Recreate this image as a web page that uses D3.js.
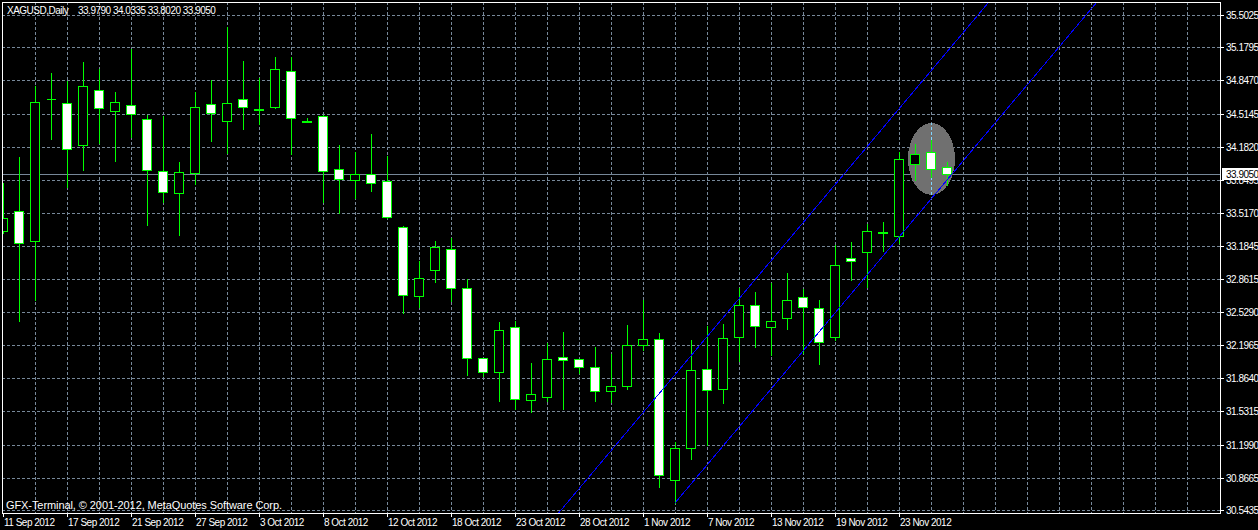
<!DOCTYPE html>
<html>
<head>
<meta charset="utf-8">
<script src="https://cdn.jsdelivr.net/npm/d3@7"></script>
<style>
  body { margin: 0; background: #000; overflow: hidden; }
  svg line, svg path, svg rect, svg ellipse { shape-rendering: crispEdges; }
  text { font-family: "Liberation Sans", Arial, sans-serif; font-size: 10px; letter-spacing: -0.5px; fill: #fff; }
</style>
</head>
<body>
<svg id="chart" width="1258" height="530"></svg>
<script>
// daily bars, XAGUSD
const dates = [
  "2012-09-11","2012-09-12","2012-09-13","2012-09-14","2012-09-17","2012-09-18","2012-09-19","2012-09-20","2012-09-21","2012-09-24",
  "2012-09-25","2012-09-26","2012-09-27","2012-09-28","2012-10-01","2012-10-02","2012-10-03","2012-10-04","2012-10-05","2012-10-07",
  "2012-10-08","2012-10-09","2012-10-10","2012-10-11","2012-10-12","2012-10-15","2012-10-16","2012-10-17","2012-10-18","2012-10-19",
  "2012-10-21","2012-10-22","2012-10-23","2012-10-24","2012-10-25","2012-10-26","2012-10-28","2012-10-29","2012-10-30","2012-10-31",
  "2012-11-01","2012-11-02","2012-11-05","2012-11-06","2012-11-07","2012-11-08","2012-11-09","2012-11-12","2012-11-13","2012-11-14",
  "2012-11-15","2012-11-16","2012-11-19","2012-11-20","2012-11-21","2012-11-22","2012-11-23","2012-11-26","2012-11-27","2012-11-28"
];
const open = [
  33.339, 33.539, 33.239, 34.661, 34.621, 34.200, 34.751, 34.541, 34.601, 34.461,
  33.940, 33.719, 33.920, 34.611, 34.441, 34.661, 34.551, 34.581, 34.942, 34.431,
  34.491, 33.960, 33.850, 33.910, 33.840, 33.379, 32.688, 32.948, 33.158, 32.768,
  32.066, 31.926, 32.377, 31.646, 31.676, 32.076, 32.056, 31.976, 31.736, 31.786,
  32.197, 32.257, 30.844, 31.165, 31.956, 31.756, 32.277, 32.597, 32.377, 32.467,
  32.678, 32.567, 32.277, 33.068, 33.128, 33.319, 33.289, 34.010, 34.130, 33.979
];
const high = [
  33.820, 34.080, 34.791, 34.922, 34.841, 35.032, 34.962, 34.731, 35.162, 34.501,
  34.491, 34.030, 34.731, 34.851, 35.382, 35.042, 34.871, 35.082, 35.082, 34.471,
  34.501, 34.200, 34.130, 34.310, 34.090, 33.385, 33.038, 33.239, 33.268, 32.858,
  32.070, 32.427, 32.437, 32.016, 32.217, 32.327, 32.060, 32.177, 32.106, 32.397,
  32.647, 32.317, 31.225, 32.247, 32.387, 32.407, 32.768, 32.728, 32.818, 32.918,
  32.758, 32.647, 33.198, 33.228, 33.409, 33.429, 34.130, 34.210, 34.250, 34.0335
];
const low = [
  33.319, 32.437, 32.647, 34.260, 33.779, 33.950, 34.220, 34.040, 34.280, 33.399,
  33.629, 33.299, 33.810, 34.240, 34.120, 34.361, 34.411, 34.571, 34.110, 34.426,
  33.629, 33.519, 33.669, 33.739, 33.469, 32.517, 32.577, 32.828, 32.637, 31.896,
  31.886, 31.636, 31.555, 31.525, 31.636, 31.555, 31.916, 31.636, 31.626, 31.756,
  32.147, 30.774, 30.614, 31.055, 31.195, 31.615, 32.036, 32.177, 32.096, 32.357,
  32.116, 32.006, 32.247, 32.848, 32.778, 33.138, 33.218, 33.850, 33.880, 33.802
];
const close = [
  33.469, 33.218, 34.631, 34.665, 34.160, 34.791, 34.571, 34.631, 34.511, 33.950,
  33.729, 33.930, 34.581, 34.521, 34.621, 34.581, 34.561, 34.962, 34.471, 34.441,
  33.940, 33.860, 33.910, 33.820, 33.479, 32.698, 32.868, 33.178, 32.768, 32.066,
  31.926, 32.347, 31.656, 31.706, 32.056, 32.046, 31.976, 31.736, 31.786, 32.197,
  32.257, 30.894, 31.165, 31.946, 31.746, 32.267, 32.597, 32.387, 32.437, 32.647,
  32.577, 32.227, 32.998, 33.038, 33.339, 33.329, 34.060, 34.110, 33.960, 33.905
];
const priceTicks = [35.5025, 35.1795, 34.8470, 34.5145, 34.1820, 33.8495, 33.5170, 33.1845,
  32.8615, 32.5290, 32.1965, 31.8640, 31.5315, 31.1990, 30.8665, 30.5435];

// objects drawn on the chart: [bar index, price]
const channelUpper = [[30, 29.615], [72, 37.608]];
const channelLower = [[42, 30.614], [72, 36.323]];
const ellipseObj = { bar: 58, price: 34.06, halfBars: 1.47, halfPrice: 0.36 };

const symbol = "XAGUSD,Daily";
const lastBar = dates.length - 1;

const W = 1258, H = 530;
const plot = { left: 2, top: 2, right: 1220, bottom: 513 };

const svg = d3.select("#chart");
const px = v => Math.round(v) + 0.5;

const x = d3.scaleLinear().domain([0, 1]).range([3, 19]);
const y = d3.scaleLinear().domain([30.5435, 35.5025]).range([510, 15]);
const fmtPrice = d3.format(".4f");
const fmtDate = d3.timeFormat("%-d %b %Y");
const parse = d3.timeParse("%Y-%m-%d");

const bars = dates.map((d, i) => ({ i, date: parse(d), o: open[i], h: high[i], l: low[i], c: close[i] }));

svg.append("rect").attr("width", W).attr("height", H).attr("fill", "#000");

svg.append("clipPath").attr("id", "plotClip")
  .append("rect")
  .attr("x", plot.left).attr("y", plot.top)
  .attr("width", plot.right - plot.left).attr("height", plot.bottom - plot.top);

const grid = svg.append("g")
  .attr("stroke", "#778899").attr("stroke-dasharray", "3,2").attr("clip-path", "url(#plotClip)");

grid.selectAll("line.h")
  .data(priceTicks).enter().append("line")
  .attr("class", "h")
  .attr("x1", plot.left).attr("x2", plot.right)
  .attr("y1", d => px(y(d))).attr("y2", d => px(y(d)));

const gridBars = d3.range(2, 76, 2);
grid.selectAll("line.v")
  .data(gridBars).enter().append("line")
  .attr("class", "v")
  .attr("x1", d => px(x(d))).attr("x2", d => px(x(d)))
  .attr("y1", plot.top).attr("y2", plot.bottom);

// last price line
svg.append("line")
  .attr("x1", plot.left).attr("x2", plot.right)
  .attr("y1", px(y(close[lastBar]))).attr("y2", px(y(close[lastBar])))
  .attr("stroke", "#778899");

// grey ellipse
const ecx = x(ellipseObj.bar), ecy = y(ellipseObj.price);
const erx = x(ellipseObj.halfBars) - x(0), ery = y(ellipseObj.price - ellipseObj.halfPrice) - ecy;
svg.append("ellipse")
  .attr("cx", ecx + 0.5).attr("cy", ecy).attr("rx", erx).attr("ry", ery)
  .attr("fill", "#707070");
svg.append("clipPath").attr("id", "ellClip")
  .append("ellipse").attr("cx", ecx + 0.5).attr("cy", ecy).attr("rx", erx).attr("ry", ery);
svg.append("g").attr("clip-path", "url(#ellClip)")
  .selectAll("line").data(gridBars.filter(b => b === ellipseObj.bar)).enter().append("line")
  .attr("x1", d => px(x(d))).attr("x2", d => px(x(d)))
  .attr("y1", plot.top).attr("y2", plot.bottom)
  .attr("stroke", "#7fd4ff").attr("stroke-dasharray", "3,2");

// candles
const candles = svg.append("g").attr("clip-path", "url(#plotClip)");

candles.selectAll("line.wick")
  .data(bars).enter().append("line")
  .attr("class", "wick")
  .attr("x1", d => px(x(d.i))).attr("x2", d => px(x(d.i)))
  .attr("y1", d => Math.round(y(d.h))).attr("y2", d => Math.round(y(d.l)) + 1)
  .attr("stroke", "#00ff00");

candles.selectAll("path.body")
  .data(bars).enter().append("path")
  .attr("class", "body")
  .attr("d", d => {
    const c = Math.round(x(d.i));
    const t = px(y(Math.max(d.o, d.c))), b = px(y(Math.min(d.o, d.c)));
    return `M${c - 4.5},${t}H${c + 4.5}V${b}H${c - 4.5}Z`;
  })
  .attr("fill", d => d.c > d.o ? "#000" : "#fff")
  .attr("stroke", "#00ff00");

// equidistant channel
const line = d3.line().x(d => x(d[0])).y(d => y(d[1]));
svg.append("g").attr("clip-path", "url(#plotClip)")
  .selectAll("path").data([channelUpper, channelLower]).enter().append("path")
  .attr("d", line)
  .attr("fill", "none").attr("stroke", "#0000ff").attr("stroke-width", 1);

// frame
svg.append("rect")
  .attr("x", plot.left + 0.5).attr("y", plot.top + 0.5)
  .attr("width", plot.right - plot.left).attr("height", plot.bottom - plot.top)
  .attr("fill", "none").attr("stroke", "#fff");

// price scale
const yAxis = svg.append("g");
yAxis.selectAll("line").data(priceTicks).enter().append("line")
  .attr("x1", plot.right).attr("x2", plot.right + 4)
  .attr("y1", d => px(y(d))).attr("y2", d => px(y(d)))
  .attr("stroke", "#fff");
yAxis.selectAll("text").data(priceTicks).enter().append("text")
  .attr("x", plot.right + 6).attr("y", d => Math.round(y(d)) + 4)
  .text(fmtPrice);

// time scale
const labelBars = bars.filter(d => d.i % 4 === 0);
const xAxis = svg.append("g");
xAxis.selectAll("line").data(labelBars).enter().append("line")
  .attr("x1", d => px(x(d.i))).attr("x2", d => px(x(d.i)))
  .attr("y1", plot.bottom).attr("y2", plot.bottom + 4)
  .attr("stroke", "#fff");
xAxis.selectAll("text").data(labelBars).enter().append("text")
  .attr("x", d => Math.round(x(d.i)) + 1).attr("y", 526)
  .text(d => fmtDate(d.date));

// header and copyright
svg.append("text").attr("x", 7).attr("y", 14).text(symbol);
svg.append("text").attr("x", 78).attr("y", 14)
  .text([open[lastBar], high[lastBar], low[lastBar], close[lastBar]].map(fmtPrice).join(" "));
svg.append("text").attr("x", 6).attr("y", 509)
  .style("font-size", "11px").style("letter-spacing", "0px")
  .attr("textLength", 276).attr("lengthAdjust", "spacing")
  .text("GFX-Terminal, © 2001-2012, MetaQuotes Software Corp.");

// last price marker
const ly = Math.round(y(close[lastBar]));
svg.append("rect")
  .attr("x", plot.right + 2).attr("y", ly - 6).attr("width", W - plot.right - 2).attr("height", 12)
  .attr("fill", "#fff");
svg.append("text")
  .attr("x", plot.right + 6).attr("y", ly + 4)
  .style("fill", "#000")
  .text(fmtPrice(close[lastBar]));
</script>
</body>
</html>
